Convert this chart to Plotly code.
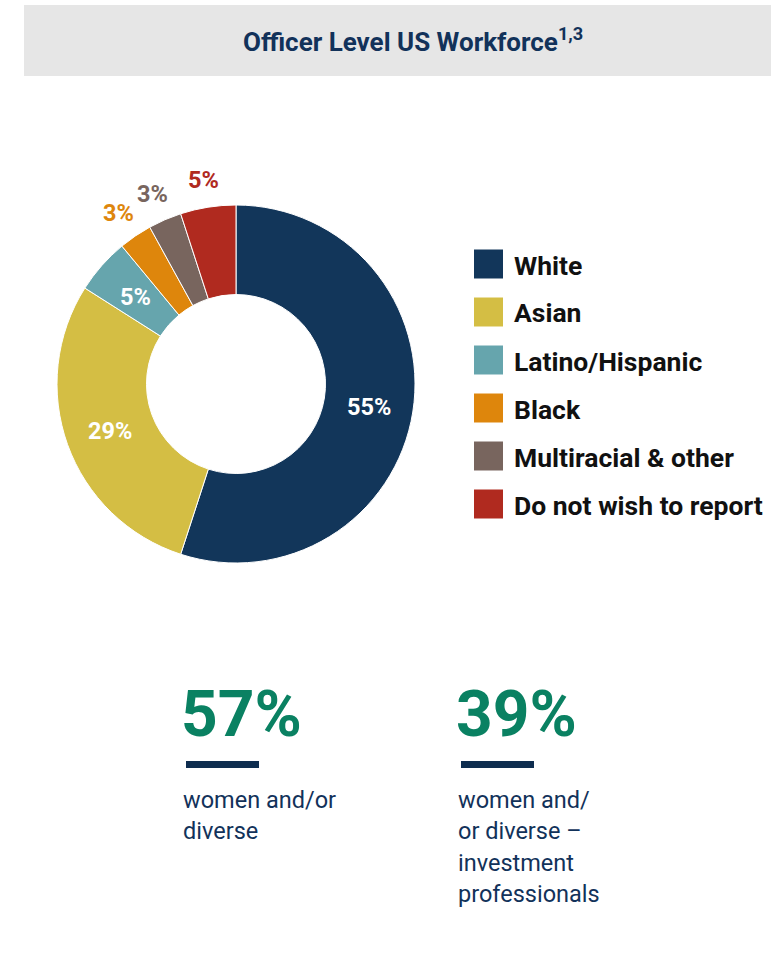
import math
import plotly.graph_objects as go

W, H = 771, 965

# ---- data ----
labels = ["White", "Asian", "Latino/Hispanic", "Black", "Multiracial & other", "Do not wish to report"]
values = [55, 29, 5, 3, 3, 5]
colors = ["#12365a", "#d4be44", "#66a5ad", "#de860c", "#78655e", "#b02a1f"]
label_pos = ["inside", "inside", "inside", "outside", "outside", "outside"]

title_text = "Officer Level US Workforce"
title_sup = "1,3"

stat_values = [57, 39]
stat_captions = [["women and/or", "diverse"],
                 ["women and/", "or diverse –", "investment", "professionals"]]

NAVY = "#12325a"
GREEN = "#0a8162"
FONT = "Roboto"

def px(x):
    return x / W

def py(y):
    return 1 - y / H

# pie geometry (pixels)
CX, CY, R = 236, 384, 179
HOLE = 0.5

fig = go.Figure()
fig.add_trace(go.Pie(
    labels=labels, values=values, sort=False, direction="clockwise", rotation=0,
    hole=HOLE,
    marker=dict(colors=colors, line=dict(color="white", width=1)),
    textinfo="none",
    domain=dict(x=[px(CX - R), px(CX + R)], y=[py(CY + R), py(CY - R)]),
    showlegend=False, hoverinfo="label+percent",
))

shapes = []
annotations = []

# slice value labels, positioned from the data (mid-angle of each slice)
total = sum(values)
cum = 0
for v, col, pos in zip(values, colors, label_pos):
    mid = (cum + v / 2) / total
    cum += v
    theta = 2 * math.pi * mid
    r = R * (1 + HOLE) / 2 if pos == "inside" else R + 30
    x = CX + r * math.sin(theta)
    y = CY - r * math.cos(theta) + 2
    annotations.append(dict(text=f"<b>{v}%</b>", x=px(x), y=py(y),
                            xref="paper", yref="paper", xanchor="center", yanchor="middle",
                            showarrow=False,
                            font=dict(family=FONT, size=23.5,
                                      color="white" if pos == "inside" else col)))

# title band
shapes.append(dict(type="rect", xref="paper", yref="paper",
                   x0=px(24), x1=px(771), y0=py(76), y1=py(5),
                   fillcolor="#e6e6e6", line=dict(width=0), layer="below"))
annotations.append(dict(text=f"<b>{title_text}<sup>{title_sup}</sup></b>",
                        x=px(413), y=py(40), xref="paper", yref="paper",
                        xanchor="center", yanchor="middle", showarrow=False,
                        font=dict(family=FONT, size=26, color=NAVY)))

# custom legend
for i, (lab, col) in enumerate(zip(labels, colors)):
    cy = 264 + 48 * i
    shapes.append(dict(type="rect", xref="paper", yref="paper",
                       x0=px(474), x1=px(503), y0=py(cy + 14.5), y1=py(cy - 14.5),
                       fillcolor=col, line=dict(width=0)))
    annotations.append(dict(text=f"<b>{lab}</b>", x=px(512), y=py(cy + 1),
                            xref="paper", yref="paper", xanchor="left", yanchor="middle",
                            showarrow=False, font=dict(family=FONT, size=26.5, color="#111111")))

# stats
stat_x = [183, 458]
for v, caps, sx in zip(stat_values, stat_captions, stat_x):
    annotations.append(dict(text=f"<b>{v}%</b>", x=px(sx - 4), y=py(714),
                            xref="paper", yref="paper", xanchor="left", yanchor="middle",
                            showarrow=False, font=dict(family=FONT, size=64, color=GREEN)))
    shapes.append(dict(type="rect", xref="paper", yref="paper",
                       x0=px(sx + 3), x1=px(sx + 76), y0=py(768), y1=py(761),
                       fillcolor="#0e2d4f", line=dict(width=0)))
    for j, line in enumerate(caps):
        annotations.append(dict(text=line, x=px(sx - 2), y=py(800 + 31.3 * j),
                                xref="paper", yref="paper", xanchor="left", yanchor="middle",
                                showarrow=False, font=dict(family=FONT, size=23.5, color=NAVY)))

fig.update_layout(
    width=W, height=H, margin=dict(l=0, r=0, t=0, b=0),
    paper_bgcolor="white", plot_bgcolor="white",
    shapes=shapes, annotations=annotations,
    font=dict(family=FONT),
)

fig.write_html("out.html")
